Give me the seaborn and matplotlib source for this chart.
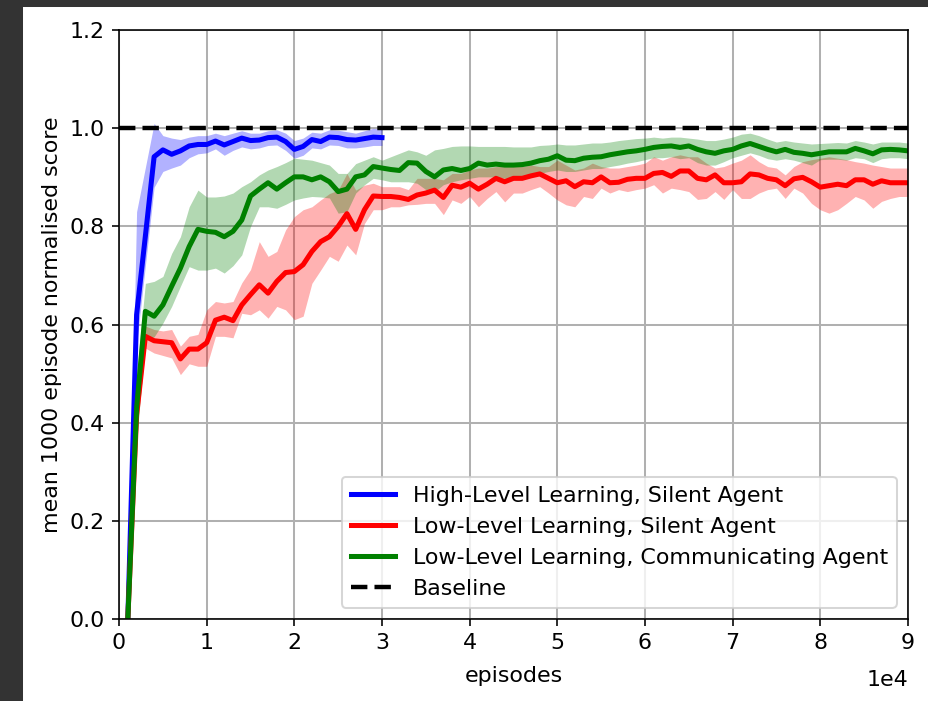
import matplotlib
matplotlib.use("Agg")
import matplotlib.pyplot as plt
from matplotlib.patches import Rectangle
from matplotlib.transforms import ScaledTranslation
import seaborn as sns
import pandas as pd

# evaluation checkpoints (every 1000 episodes)
episodes = list(range(1000, 91000, 1000))

# High-level learning, silent agent (first 30 checkpoints)
high_mean = [0.0, 0.62, 0.78, 0.942, 0.956, 0.947, 0.954, 0.964, 0.967, 0.967,
             0.974, 0.966, 0.973, 0.980, 0.975, 0.976, 0.981, 0.982, 0.973, 0.957,
             0.963, 0.977, 0.973, 0.982, 0.981, 0.977, 0.976, 0.979, 0.982, 0.981]
high_lo = [0.0, 0.56, 0.72, 0.88, 0.912, 0.919, 0.925, 0.94, 0.948, 0.95,
           0.958, 0.945, 0.955, 0.962, 0.958, 0.96, 0.965, 0.966, 0.955, 0.939,
           0.945, 0.96, 0.958, 0.966, 0.965, 0.96, 0.96, 0.962, 0.965, 0.965]
high_hi = [0.0, 0.83, 0.92, 1.01, 0.985, 0.98, 0.977, 0.982, 0.985, 0.985,
           0.99, 0.985, 0.99, 0.995, 0.99, 0.99, 0.995, 0.997, 0.99, 0.975,
           0.98, 0.992, 0.99, 0.997, 0.996, 0.993, 0.99, 0.995, 1.0, 0.998]

# Low-level learning, silent agent
low_mean = [0.0, 0.415, 0.576, 0.567, 0.565, 0.563, 0.530, 0.550, 0.550, 0.563,
            0.609, 0.615, 0.608, 0.640, 0.661, 0.681, 0.664, 0.688, 0.706, 0.708,
            0.722, 0.749, 0.769, 0.779, 0.800, 0.826, 0.794, 0.834, 0.862, 0.861,
            0.861, 0.859, 0.855, 0.864, 0.868, 0.874, 0.859, 0.884, 0.880, 0.888,
            0.876, 0.886, 0.898, 0.891, 0.898, 0.898, 0.903, 0.907, 0.898, 0.889,
            0.893, 0.881, 0.891, 0.889, 0.901, 0.889, 0.890, 0.896, 0.898, 0.898,
            0.908, 0.910, 0.902, 0.913, 0.913, 0.898, 0.895, 0.905, 0.889, 0.889,
            0.891, 0.907, 0.905, 0.898, 0.895, 0.883, 0.897, 0.900, 0.891, 0.880,
            0.883, 0.886, 0.883, 0.895, 0.895, 0.886, 0.893, 0.889, 0.889, 0.889]
low_lo = [0.0, 0.38, 0.552, 0.542, 0.537, 0.532, 0.498, 0.52, 0.515, 0.515,
          0.576, 0.576, 0.573, 0.623, 0.62, 0.63, 0.613, 0.637, 0.63, 0.61,
          0.617, 0.684, 0.711, 0.739, 0.729, 0.762, 0.742, 0.806, 0.834, 0.834,
          0.84, 0.84, 0.844, 0.845, 0.847, 0.847, 0.824, 0.854, 0.847, 0.861,
          0.84, 0.857, 0.871, 0.85, 0.868, 0.868, 0.875, 0.881, 0.868, 0.854,
          0.844, 0.84, 0.861, 0.857, 0.878, 0.868, 0.875, 0.871, 0.875, 0.878,
          0.885, 0.868, 0.878, 0.875, 0.871, 0.855, 0.857, 0.871, 0.855, 0.875,
          0.857, 0.857, 0.868, 0.875, 0.878, 0.857, 0.878, 0.868, 0.847, 0.834,
          0.827, 0.834, 0.847, 0.861, 0.854, 0.837, 0.851, 0.857, 0.861, 0.861]
low_hi = [0.0, 0.45, 0.597, 0.59, 0.587, 0.59, 0.556, 0.576, 0.58, 0.63,
          0.647, 0.644, 0.647, 0.685, 0.712, 0.769, 0.739, 0.749, 0.793, 0.82,
          0.834, 0.84, 0.854, 0.867, 0.874, 0.908, 0.874, 0.884, 0.888, 0.881,
          0.881, 0.881, 0.875, 0.898, 0.898, 0.898, 0.895, 0.908, 0.908, 0.915,
          0.919, 0.919, 0.922, 0.922, 0.925, 0.922, 0.925, 0.922, 0.922, 0.935,
          0.925, 0.915, 0.919, 0.929, 0.922, 0.919, 0.919, 0.922, 0.925, 0.929,
          0.942, 0.935, 0.942, 0.946, 0.942, 0.942, 0.929, 0.919, 0.922, 0.929,
          0.935, 0.946, 0.932, 0.922, 0.919, 0.905, 0.922, 0.932, 0.936, 0.939,
          0.942, 0.939, 0.936, 0.932, 0.929, 0.925, 0.922, 0.919, 0.919, 0.919]

# Low-level learning, communicating agent
comm_mean = [0.0, 0.43, 0.627, 0.617, 0.640, 0.678, 0.715, 0.759, 0.794, 0.790,
             0.788, 0.779, 0.790, 0.813, 0.862, 0.876, 0.889, 0.876, 0.889, 0.901,
             0.901, 0.895, 0.901, 0.891, 0.871, 0.876, 0.901, 0.905, 0.922, 0.919,
             0.916, 0.914, 0.930, 0.929, 0.912, 0.901, 0.915, 0.918, 0.914, 0.918,
             0.929, 0.925, 0.927, 0.925, 0.925, 0.926, 0.929, 0.934, 0.937, 0.944,
             0.935, 0.934, 0.939, 0.941, 0.942, 0.946, 0.949, 0.952, 0.954, 0.957,
             0.961, 0.963, 0.964, 0.961, 0.964, 0.957, 0.952, 0.949, 0.954, 0.957,
             0.964, 0.969, 0.963, 0.957, 0.952, 0.957, 0.951, 0.949, 0.946, 0.949,
             0.952, 0.952, 0.952, 0.959, 0.954, 0.948, 0.956, 0.957, 0.956, 0.954]
comm_lo = [0.0, 0.36, 0.57, 0.575, 0.603, 0.637, 0.678, 0.718, 0.711, 0.711,
           0.715, 0.705, 0.72, 0.742, 0.80, 0.84, 0.84, 0.837, 0.845, 0.854,
           0.858, 0.861, 0.86, 0.858, 0.827, 0.83, 0.868, 0.885, 0.898, 0.895,
           0.891, 0.891, 0.891, 0.888, 0.875, 0.871, 0.885, 0.891, 0.895, 0.898,
           0.901, 0.901, 0.901, 0.898, 0.898, 0.901, 0.905, 0.908, 0.912, 0.915,
           0.912, 0.912, 0.915, 0.918, 0.918, 0.922, 0.925, 0.929, 0.932, 0.936,
           0.94, 0.94, 0.942, 0.938, 0.94, 0.93, 0.925, 0.925, 0.932, 0.94,
           0.945, 0.95, 0.945, 0.938, 0.935, 0.938, 0.935, 0.93, 0.925, 0.936,
           0.937, 0.937, 0.935, 0.94, 0.938, 0.93, 0.938, 0.94, 0.94, 0.938]
comm_hi = [0.0, 0.50, 0.684, 0.688, 0.698, 0.745, 0.779, 0.84, 0.874, 0.86,
           0.86, 0.862, 0.868, 0.881, 0.891, 0.905, 0.915, 0.922, 0.93, 0.939,
           0.937, 0.935, 0.93, 0.925, 0.908, 0.908, 0.928, 0.935, 0.942, 0.935,
           0.942, 0.949, 0.956, 0.952, 0.945, 0.956, 0.959, 0.963, 0.964, 0.964,
           0.963, 0.963, 0.963, 0.963, 0.962, 0.962, 0.962, 0.965, 0.966, 0.968,
           0.966, 0.966, 0.968, 0.97, 0.97, 0.972, 0.975, 0.977, 0.979, 0.98,
           0.982, 0.98, 0.982, 0.982, 0.98, 0.978, 0.975, 0.975, 0.978, 0.982,
           0.988, 0.99, 0.985, 0.978, 0.972, 0.975, 0.972, 0.97, 0.968, 0.969,
           0.97, 0.971, 0.97, 0.975, 0.972, 0.968, 0.972, 0.972, 0.972, 0.97]

baseline = 1.0

series = [
    ("High-Level Learning, Silent Agent", high_mean, high_lo, high_hi, "b"),
    ("Low-Level Learning, Silent Agent", low_mean, low_lo, low_hi, "r"),
    ("Low-Level Learning, Communicating Agent", comm_mean, comm_lo, comm_hi, "g"),
]

plt.rcParams["font.size"] = 11

fig = plt.figure(figsize=(928 / 145, 701 / 145), dpi=145)
ax = fig.add_axes([0.1283, 0.117, 0.85, 0.84])

for name, mean, lo, hi, col in series:
    x = episodes[:len(mean)]
    df = pd.DataFrame({"episodes": x, "score": mean})
    sns.lineplot(data=df, x="episodes", y="score", color=col, linewidth=2.5,
                 label=name, ax=ax)
    ax.fill_between(x, lo, hi, color=col, alpha=0.3, linewidth=0)

ax.axhline(baseline, color="k", linestyle="--", linewidth=2.2, label="Baseline")

ax.set_xlim(0, 90000)
ax.set_ylim(0, 1.2)
ax.grid(True, color="#b0b0b0", linewidth=1.0)
ax.set_axisbelow(True)
ax.set_xlabel("episodes", fontsize=11, labelpad=6.5)
ax.set_ylabel("mean 1000 episode normalised score", fontsize=11)
ax.tick_params(labelsize=11)
ax.ticklabel_format(axis="x", style="sci", scilimits=(0, 0))
offset = ax.xaxis.get_offset_text()
offset.set_fontsize(11)
offset.set_transform(offset.get_transform()
                     + ScaledTranslation(0, -11 / 145, fig.dpi_scale_trans))
ax.legend(loc="lower right", fontsize=11)

# dark strip along the top and left edges of the canvas
fig.add_artist(Rectangle((0, 1 - 6 / 701), 1, 6 / 701, transform=fig.transFigure,
                         color="#333333", zorder=10))
fig.add_artist(Rectangle((0, 0), 22 / 928, 1, transform=fig.transFigure,
                         color="#333333", zorder=10))

fig.savefig("out.png", dpi=145)
